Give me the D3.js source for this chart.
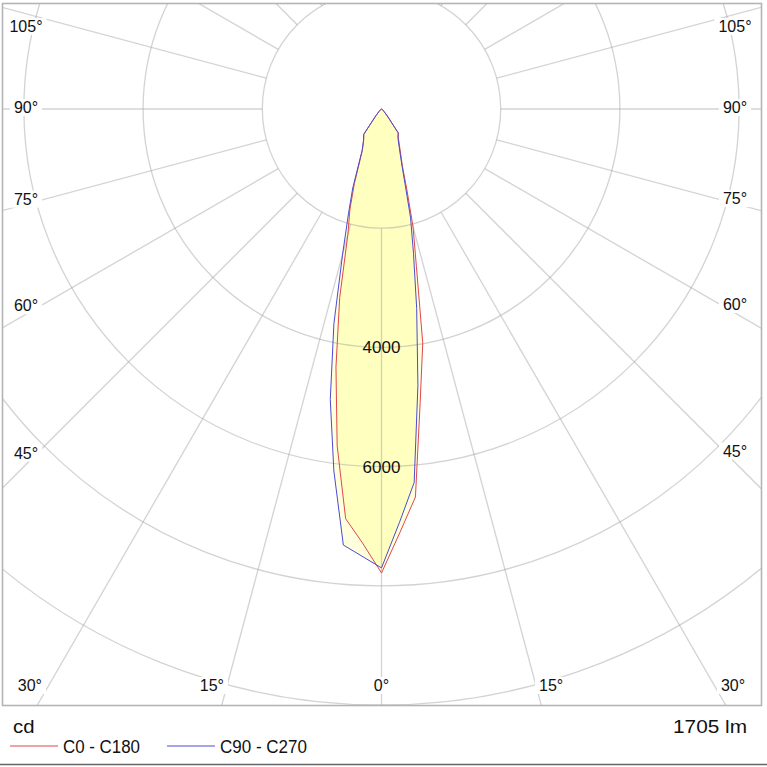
<!DOCTYPE html>
<html>
<head>
<meta charset="utf-8">
<script src="https://d3js.org/d3.v7.min.js"></script>
<style>
  html,body{margin:0;padding:0;background:#fff;}
  svg{display:block;}
  text{font-family:"Liberation Sans", Arial, sans-serif;}
</style>
</head>
<body>
<svg id="chart" width="767" height="767"></svg>
<script>
// ---------- data (cd) ----------
const gammaAngles = [0,2.5,5,7.5,10,12.5,15,17.5,20,25,30,35,40,45,50,55,60,65,70,75,80,85,90];
const c0Values   = [7785,7110,6535,4970,3987,2705,2045,1410,1030,730,567,490,150,60,30,20,10,5,0,0,0,0,0];
const c180Values = [7785,7290,6900,5700,4400,3240,2180,1760,1330,755,600,520,150,60,30,20,10,5,0,0,0,0,0];
const c90Values  = [7700,6940,6290,4680,3400,2480,1880,1310,1000,700,550,490,150,60,30,20,10,5,0,0,0,0,0];
const c270Values = [7700,7510,7344,6125,4950,3690,2520,1845,1410,770,600,520,150,60,30,20,10,5,0,0,0,0,0];
const ringTicks = [2000,4000,6000,8000,10000,12000];
const ringLabels = [4000,6000];
const radialAngles = d3.range(-180,181,15);
const sideLabelAngles = [45,60,75,90,105];
const bottomLabelAngles = [0,15,30];
const unitLabel = "cd";
const fluxLabel = "1705 lm";
const seriesNames = ["C0 - C180","C90 - C270"];
const seriesColors = ["#e0474c","#4b4bd2"];

// ---------- layout ----------
const W = 767, H = 767;
const cx = 381.5, cy = 109;
const frame = {x:3, y:4, w:758, h:701};
const svg = d3.select("#chart");
const rScale = d3.scaleLinear().domain([0,10000]).range([0,596]);
const aScale = d3.scaleLinear().domain([0,180]).range([Math.PI, 0]); // signed gamma -> lineRadial angle
const rad = d => d*Math.PI/180;

svg.append("rect").attr("width",W).attr("height",H).attr("fill","#fff");

const defs = svg.append("defs");
defs.append("clipPath").attr("id","frameClip").append("rect")
  .attr("x",frame.x).attr("y",frame.y).attr("width",frame.w).attr("height",frame.h);

const g = svg.append("g").attr("clip-path","url(#frameClip)")
  .append("g").attr("transform",`translate(${cx},${cy})`);

// ---------- curves ----------
function halfCurve(angles, values, sign){
  return angles.map((a,i)=>({a: sign*a, v: values[i]}));
}
const redPts = halfCurve(gammaAngles, c180Values, -1).reverse().concat(halfCurve(gammaAngles, c0Values, 1).slice(1));
const bluePts = halfCurve(gammaAngles, c270Values, -1).reverse().concat(halfCurve(gammaAngles, c90Values, 1).slice(1));

const radial = d3.lineRadial()
  .angle(d => Math.PI - rad(d.a))
  .radius(d => rScale(d.v))
  .curve(d3.curveLinearClosed);

defs.append("clipPath").attr("id","redClip").append("path")
  .attr("transform",`translate(${cx},${cy})`).attr("d", radial(redPts));

// light fill for union
g.append("path").attr("d", radial(redPts)).attr("fill","#ffffdd");
g.append("path").attr("d", radial(bluePts)).attr("fill","#ffffdd");
// intersection darker
svg.append("g").attr("clip-path","url(#redClip)")
  .append("path").attr("transform",`translate(${cx},${cy})`)
  .attr("d", radial(bluePts)).attr("fill","#ffffbf");

// ---------- grid ----------
const grid = svg.append("g").attr("clip-path","url(#frameClip)")
  .append("g").attr("transform",`translate(${cx},${cy})`);
grid.selectAll("circle.ring").data(ringTicks).enter().append("circle")
  .attr("class","ring").attr("r", d=>rScale(d))
  .attr("fill","none").attr("stroke","#a8a8a8").attr("stroke-opacity",0.5).attr("stroke-width",1.3);
const spoke = d3.lineRadial().angle(d=>d.t).radius(d=>d.r);
grid.selectAll("path.spoke").data(radialAngles).enter().append("path")
  .attr("class","spoke")
  .attr("d", d => spoke([{t:Math.PI - rad(d), r:rScale(ringTicks[0])},{t:Math.PI - rad(d), r:1400}]))
  .attr("fill","none").attr("stroke","#a8a8a8").attr("stroke-opacity",0.5).attr("stroke-width",1.3);

// curve strokes
const curves = svg.append("g").attr("transform",`translate(${cx},${cy})`);
curves.append("path").attr("d", radial(redPts)).attr("fill","none")
  .attr("stroke",seriesColors[0]).attr("stroke-width",1).attr("stroke-linejoin","round");
curves.append("path").attr("d", radial(bluePts)).attr("fill","none")
  .attr("stroke",seriesColors[1]).attr("stroke-width",1).attr("stroke-linejoin","round");

// ring labels
svg.selectAll("text.ringLab").data(ringLabels).enter().append("text")
  .attr("class","ringLab")
  .attr("x",cx).attr("y",d=>cy + rScale(d) + 6)
  .attr("text-anchor","middle").attr("font-size",17).attr("fill","#111")
  .text(d=>d);

// ---------- angle labels ----------
const labG = svg.append("g");
function addLabel(x, y, anchor, txt){
  const grp = labG.append("g");
  const rect = grp.append("rect").attr("fill","#fff");
  const t = grp.append("text").attr("x",x).attr("y",y).attr("text-anchor",anchor)
    .attr("font-size",16).attr("fill","#111").text(txt);
  const bb = t.node().getBBox();
  rect.attr("x",bb.x-4).attr("y",bb.y).attr("width",bb.width+8).attr("height",bb.height);
}
sideLabelAngles.forEach(a=>{
  [-1,1].forEach(s=>{
    const xc = s>0 ? 735 : 26;
    const dx = Math.abs(xc - cx);
    const lineY = cy + dx*Math.cos(rad(a))/Math.sin(rad(a));
    const base = Math.max(32, lineY + 4 - 14*Math.cos(rad(a)));
    addLabel(xc, base, "middle", a+"°");
  });
});
bottomLabelAngles.forEach(a=>{
  if(a===0){ addLabel(cx, 691, "middle", a+"°"); return; }
  [-1,1].forEach(s=>{
    const x = cx + s*(697-cy)*Math.tan(rad(a));
    addLabel(x, 691, s<0?"end":"start", a+"°");
  });
});

// frame
svg.append("rect").attr("x",frame.x-0.5).attr("y",frame.y-0.5).attr("width",frame.w+1).attr("height",frame.h+1)
  .attr("fill","none").attr("stroke","#b4b4b4").attr("stroke-width",1.6);

// ---------- bottom texts / legend ----------
svg.append("text").attr("x",13).attr("y",733).attr("font-size",19).attr("fill","#111")
  .attr("textLength",21.5).attr("lengthAdjust","spacingAndGlyphs").text(unitLabel);
svg.append("text").attr("x",747).attr("y",733).attr("text-anchor","end").attr("font-size",19).attr("fill","#111")
  .attr("textLength",74).attr("lengthAdjust","spacingAndGlyphs").text(fluxLabel);

const legX = [10,167];
const legW = [77,87];
seriesNames.forEach((n,i)=>{
  svg.append("line").attr("x1",legX[i]).attr("x2",legX[i]+48).attr("y1",746).attr("y2",746)
    .attr("stroke",seriesColors[i]).attr("stroke-width",1);
  svg.append("text").attr("x",legX[i]+53).attr("y",753).attr("font-size",18).attr("fill","#111")
    .attr("textLength",legW[i]).attr("lengthAdjust","spacingAndGlyphs").text(n);
});
svg.append("line").attr("x1",0).attr("x2",W).attr("y1",764.5).attr("y2",764.5)
  .attr("stroke","#666").attr("stroke-width",1.5);
</script>
</body>
</html>
